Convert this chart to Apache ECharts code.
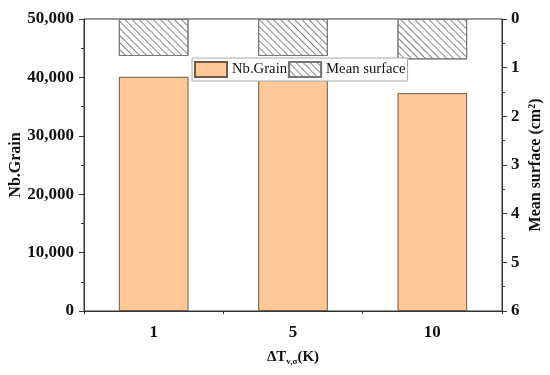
<!DOCTYPE html>
<html><head><meta charset="utf-8">
<script src="https://cdn.jsdelivr.net/npm/echarts@6/dist/echarts.min.js"></script>
<style>html,body{margin:0;padding:0;background:#fff}#c{width:550px;height:375px}</style>
</head><body><div id="c"></div>
<script>
const categories = ['1', '5', '10'];
const nbGrain = [40100, 39550, 37300];
const meanSurface = [0.76, 0.76, 0.83];
const leftTicks = [0, 10000, 20000, 30000, 40000, 50000];
const rightTicks = [0, 1, 2, 3, 4, 5, 6];

const F = '"Liberation Serif","Times New Roman",serif';
const AX = '#333';
const G = {left: 84, right: 48, top: 19, bottom: 64, containLabel: false, outerBoundsMode: 'none'};
const chart = echarts.init(document.getElementById('c'));
chart.setOption({
  animation: false,
  grid: [Object.assign({show: true, borderColor: AX, borderWidth: 1}, G), Object.assign({show: false}, G)],
  legend: {
    left: 192, top: 58, padding: [3, 2, 3, 2], itemGap: 1, itemWidth: 32, itemHeight: 15,
    borderColor: '#aaa', borderWidth: 1, backgroundColor: '#fff', icon: 'rect',
    textStyle: {fontFamily: F, fontSize: 14.7, color: '#111'},
    data: ['Nb.Grain', 'Mean surface']
  },
  xAxis: [{
    type: 'category', data: categories, position: 'bottom', gridIndex: 0,
    axisLine: {lineStyle: {color: AX, width: 1}},
    axisTick: {alignWithLabel: true, length: 5, lineStyle: {color: AX}},
    axisLabel: {fontFamily: F, fontWeight: 'bold', fontSize: 17, color: '#111', margin: 13},
    name: '{a|ΔT}{s|v,σ}{a|(K)}', nameLocation: 'middle', nameGap: 38, nameMoveOverlap: false,
    nameTextStyle: {rich: {
      a: {fontFamily: F, fontWeight: 'bold', fontSize: 15, color: '#111'},
      s: {fontFamily: F, fontWeight: 'bold', fontSize: 9, color: '#111', padding: [8, 0, 0, 0]}
    }}
  }, {
    type: 'category', data: categories, position: 'bottom', gridIndex: 1,
    axisLine: {show: false}, axisLabel: {show: false},
    axisTick: {show: true, interval: 0, length: 3, lineStyle: {color: AX}}
  }],
  yAxis: [{
    type: 'value', min: 0, max: 50000, interval: 10000, position: 'left', gridIndex: 0,
    axisLine: {show: true, lineStyle: {color: AX}},
    axisTick: {show: true, length: 5, lineStyle: {color: AX}},
    minorTick: {show: true, splitNumber: 2, length: 3, lineStyle: {color: AX}},
    splitLine: {show: false},
    axisLabel: {fontFamily: F, fontWeight: 'bold', fontSize: 17, color: '#111', margin: 10,
      formatter: v => leftTicks.includes(v) ? v.toLocaleString('en-US') : ''},
    name: 'Nb.Grain', nameLocation: 'middle', nameGap: 60, nameMoveOverlap: false,
    nameTextStyle: {fontFamily: F, fontWeight: 'bold', fontSize: 16, color: '#111'}
  }, {
    type: 'value', min: 0, max: 6, interval: 1, inverse: true, position: 'right', gridIndex: 0,
    axisLine: {show: true, lineStyle: {color: AX}},
    axisTick: {show: true, length: 5, lineStyle: {color: AX}},
    minorTick: {show: true, splitNumber: 2, length: 3, lineStyle: {color: AX}},
    splitLine: {show: false},
    axisLabel: {fontFamily: F, fontWeight: 'bold', fontSize: 17, color: '#111', margin: 9,
      formatter: v => rightTicks.includes(v) ? String(v) : ''},
    name: '{a|Mean surface (cm}{s|2}{a|)}', nameLocation: 'middle', nameGap: 25, nameRotate: 90,
    nameMoveOverlap: false,
    nameTextStyle: {rich: {
      a: {fontFamily: F, fontWeight: 'bold', fontSize: 16, color: '#111'},
      s: {fontFamily: F, fontWeight: 'bold', fontSize: 10, color: '#111', padding: [0, 0, 8, 0]}
    }}
  }, {
    type: 'value', gridIndex: 1, min: 0, max: 1, show: false
  }],
  series: [{
    name: 'Nb.Grain', type: 'bar', data: nbGrain, xAxisIndex: 0, yAxisIndex: 0,
    barWidth: '50%', barGap: '-100%',
    itemStyle: {color: '#FFC896', borderColor: '#6e5a48', borderWidth: 1}
  }, {
    name: 'Mean surface', type: 'bar', data: meanSurface, xAxisIndex: 0, yAxisIndex: 1,
    barWidth: '50%', barGap: '-100%',
    itemStyle: {color: '#fff', borderColor: '#777', borderWidth: 1,
      decal: {symbol: 'rect', symbolSize: 1, dashArrayX: [[1, 0]], dashArrayY: [1, 4],
        rotation: Math.PI / 4, color: '#888'}}
  }]
});
</script></body></html>
